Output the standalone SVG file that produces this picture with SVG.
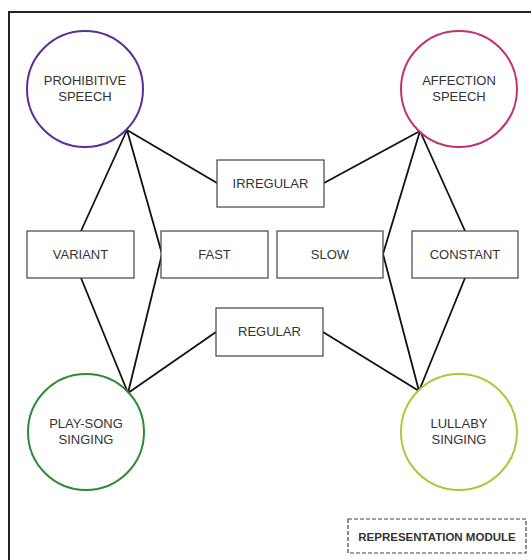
<svg xmlns="http://www.w3.org/2000/svg" width="531" height="560" viewBox="0 0 531 560">
<style>
text{font-family:"Liberation Sans",Arial,sans-serif;font-size:13px;fill:#333;text-anchor:middle}
.box{fill:#fff;stroke:#444;stroke-width:1.2}
.circ{fill:#fff;stroke-width:2}
.conn line{stroke:#111;stroke-width:1.8}
</style>
<rect width="531" height="560" fill="#fff"/>
<path d="M9,570 V12 H540" fill="none" stroke="#222" stroke-width="2"/>
<g class="conn" id="connectors">
<line x1="127" y1="130" x2="81" y2="231"/>
<line x1="127" y1="130" x2="162" y2="254"/>
<line x1="127" y1="130" x2="217" y2="183"/>
<line x1="420" y1="131" x2="324" y2="183"/>
<line x1="420" y1="131" x2="383" y2="254"/>
<line x1="420" y1="131" x2="465" y2="231"/>
<line x1="128" y1="393" x2="81" y2="278"/>
<line x1="128" y1="393" x2="162" y2="254"/>
<line x1="128" y1="393" x2="216" y2="332"/>
<line x1="419" y1="391" x2="383" y2="254"/>
<line x1="419" y1="391" x2="465" y2="278"/>
<line x1="419" y1="391" x2="323" y2="332"/>
</g>
<g id="prohibitive"><circle class="circ" cx="85" cy="89" r="58" stroke="#5b3092"/><text x="85" y="85">PROHIBITIVE</text><text x="85" y="101">SPEECH</text></g>
<g id="affection"><circle class="circ" cx="459" cy="89" r="58" stroke="#c2326e"/><text x="459" y="85">AFFECTION</text><text x="459" y="101">SPEECH</text></g>
<g id="playsong"><circle class="circ" cx="86" cy="432" r="58" stroke="#2e8b35"/><text x="86" y="428">PLAY-SONG</text><text x="86" y="444">SINGING</text></g>
<g id="lullaby"><circle class="circ" cx="459" cy="432" r="58" stroke="#a9c83c"/><text x="459" y="428">LULLABY</text><text x="459" y="444">SINGING</text></g>
<g id="irregular"><rect class="box" x="217" y="160" width="107" height="47"/><text x="270.5" y="188">IRREGULAR</text></g>
<g id="variant"><rect class="box" x="27" y="231" width="107" height="47"/><text x="80.5" y="259">VARIANT</text></g>
<g id="fast"><rect class="box" x="161" y="231" width="107" height="47"/><text x="214.5" y="259">FAST</text></g>
<g id="slow"><rect class="box" x="277" y="231" width="106" height="47"/><text x="330" y="259">SLOW</text></g>
<g id="constant"><rect class="box" x="412" y="231" width="106" height="47"/><text x="465" y="259">CONSTANT</text></g>
<g id="regular"><rect class="box" x="216" y="308" width="107" height="48"/><text x="269.5" y="336">REGULAR</text></g>
<g id="module"><rect x="348" y="519" width="178" height="34" fill="#fff" stroke="#444" stroke-width="1.2" stroke-dasharray="4,2"/><text x="437" y="541" style="font-weight:bold;font-size:11.5px">REPRESENTATION MODULE</text></g>
</svg>
